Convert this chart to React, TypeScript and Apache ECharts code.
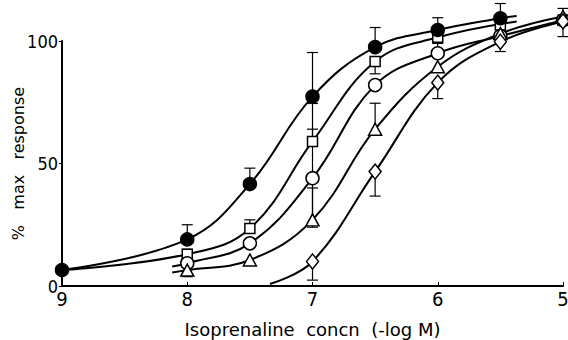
import React, { useEffect, useRef } from "react";
import * as echarts from "echarts";

// Concentrations (-log M)
const xFilled = [9, 8, 7.5, 7, 6.5, 6, 5.5];
const xOther = [8, 7.5, 7, 6.5, 6, 5.5, 5];
const xDiamond = [7, 6.5, 6, 5.5, 5];

// % max response
const yFilled = [6.5, 19, 41.6, 77.3, 97.5, 104.5, 109.3];
const upFilled = [0, 6, 6.5, 18, 8, 5, 6];
const loFilled = [0, 0, 0, 0, 0, 0, 0];

const ySquare = [13, 23.5, 59, 91.6, 101.5, 106.5, 108.5];
const upSquare = [2, 3.5, 15.5, 0, 0, 0, 0];
const loSquare = [2, 0, 0, 5, 0, 0, 0];

const yCircle = [9.3, 17.4, 44, 82, 95, 102, 108.5];
const upCircle = [0, 0, 20, 0, 4, 0, 0];
const loCircle = [5.5, 0, 20, 0, 0, 0, 0];

const yTriangle = [6.5, 10.6, 27, 64, 89.5, 103, 110];
const upTriangle = [0, 0, 13, 10.6, 0, 0, 0];
const loTriangle = [0, 0, 0, 0, 0, 0, 0];

const yDiamond = [10, 46.7, 83, 99.7, 108];
const upDiamond = [0, 0, 0, 0, 5.3];
const loDiamond = [7.6, 10, 6.5, 4, 6.2];

// fitted-curve end points
const filledCurveEnd = [5.37, 110.2];
const squareCurveStart = [9, 6.5];
const squareCurveEnd = [5.37, 108];
const circleCurveStart = [8.12, 8.0];
const triangleCurveStart = [8.12, 5.5];
const diamondCurveStart = [7.34, 0.8];

const xTicks = [9, 8, 7, 6, 5];
const yTicks = [0, 50, 100];

const pts = (xs: number[], ys: number[]) => xs.map((x, i) => [x, ys[i]]);

const errs = (xs: number[], ys: number[], up: number[], lo: number[]) =>
  xs
    .map((x, i) => [x, ys[i], ys[i] - lo[i], ys[i] + up[i]])
    .filter((d) => d[2] !== d[1] || d[3] !== d[1]);

export default function App() {
  const ref = useRef<HTMLDivElement>(null);
  useEffect(() => {
    if (!ref.current) return;
    const chart = echarts.init(ref.current, null, { renderer: "svg" });

    const lineStyle = { color: "#000", width: 2 };
    const curve = (data: number[][]) => ({
      type: "line",
      data,
      smooth: 0.4,
      showSymbol: false,
      symbol: "none",
      lineStyle,
      clip: false,
      z: 2,
    });
    const marks = (data: number[][], symbol: string, size: any, filled: boolean) => ({
      type: "scatter",
      data,
      symbol,
      symbolSize: size,
      clip: false,
      itemStyle: {
        color: filled ? "#000" : "#fff",
        borderColor: "#000",
        borderWidth: 1.5,
        opacity: 1,
      },
      z: 5,
    });
    const errorBars = (data: number[][]) => ({
      type: "custom",
      data,
      clip: false,
      z: 3,
      encode: { x: 0, y: [2, 3] },
      renderItem: (params: any, api: any) => {
        const x = api.value(0);
        const v = api.value(1);
        const lo = api.value(2);
        const hi = api.value(3);
        const pLo = api.coord([x, lo]);
        const pHi = api.coord([x, hi]);
        const half = 5.5;
        const style = { stroke: "#000", lineWidth: 1.2 };
        const children: any[] = [
          { type: "line", shape: { x1: pLo[0], y1: pLo[1], x2: pHi[0], y2: pHi[1] }, style },
        ];
        if (hi !== v)
          children.push({
            type: "line",
            shape: { x1: pHi[0] - half, y1: pHi[1], x2: pHi[0] + half, y2: pHi[1] },
            style,
          });
        if (lo !== v)
          children.push({
            type: "line",
            shape: { x1: pLo[0] - half, y1: pLo[1], x2: pLo[0] + half, y2: pLo[1] },
            style,
          });
        return { type: "group", children };
      },
    });

    const tickFont = "'Liberation Sans Narrow', 'DejaVu Sans Condensed', 'Liberation Sans', sans-serif";

    chart.setOption({
      animation: false,
      backgroundColor: "#fff",
      grid: {
        left: 62,
        right: 5,
        top: 41,
        bottom: 54,
        containLabel: false,
        outerBoundsMode: "none",
      },
      xAxis: {
        type: "value",
        inverse: true,
        min: 5,
        max: 9,
        interval: 1,
        name: "Isoprenaline  concn  (-log M)",
        nameLocation: "middle",
        nameGap: 34,
        nameMoveOverlap: false,
        nameTextStyle: { fontFamily: "'DejaVu Sans', sans-serif", fontSize: 18, color: "#000" },
        axisLine: { show: true, onZero: false, lineStyle: { color: "#000", width: 2 } },
        axisTick: { show: true, inside: true, length: 4, lineStyle: { color: "#000" } },
        axisLabel: {
          color: "#000",
          fontSize: 20,
          fontFamily: tickFont,
          margin: 3,
          customValues: xTicks,
        },
        splitLine: { show: false },
      },
      yAxis: {
        type: "value",
        min: 0,
        max: 100,
        interval: 50,
        name: "%   max   response",
        nameLocation: "middle",
        nameRotate: 90,
        nameGap: 36,
        nameMoveOverlap: false,
        nameTextStyle: { fontFamily: "'DejaVu Sans', sans-serif", fontSize: 16, color: "#000" },
        axisLine: { show: true, onZero: false, lineStyle: { color: "#000", width: 2 } },
        axisTick: { show: true, length: 3, lineStyle: { color: "#000" } },
        axisLabel: {
          color: "#000",
          fontSize: 18,
          fontFamily: tickFont,
          margin: 4,
          customValues: yTicks,
        },
        splitLine: { show: false },
      },
      series: [
        curve([...pts(xFilled, yFilled), filledCurveEnd]),
        curve([squareCurveStart, ...pts(xOther, ySquare).slice(0, 5), squareCurveEnd]),
        curve([circleCurveStart, ...pts(xOther, yCircle)]),
        curve([triangleCurveStart, ...pts(xOther, yTriangle)]),
        curve([diamondCurveStart, ...pts(xDiamond, yDiamond)]),
        errorBars(errs(xFilled, yFilled, upFilled, loFilled)),
        errorBars(errs(xOther, ySquare, upSquare, loSquare)),
        errorBars(errs(xOther, yCircle, upCircle, loCircle)),
        errorBars(errs(xOther, yTriangle, upTriangle, loTriangle)),
        errorBars(errs(xDiamond, yDiamond, upDiamond, loDiamond)),
        marks(pts(xOther, ySquare), "rect", 10, false),
        marks(pts(xOther, yCircle), "circle", 13, false),
        marks(pts(xOther, yTriangle), "triangle", [13, 12], false),
        marks(pts(xDiamond, yDiamond), "diamond", [12, 15], false),
        marks(pts(xFilled, yFilled), "circle", 13, true),
      ],
    });
    return () => chart.dispose();
  }, []);
  return (
    <div
      ref={ref}
      style={{ position: "fixed", left: 0, top: 0, width: 568, height: 340 }}
    />
  );
}
